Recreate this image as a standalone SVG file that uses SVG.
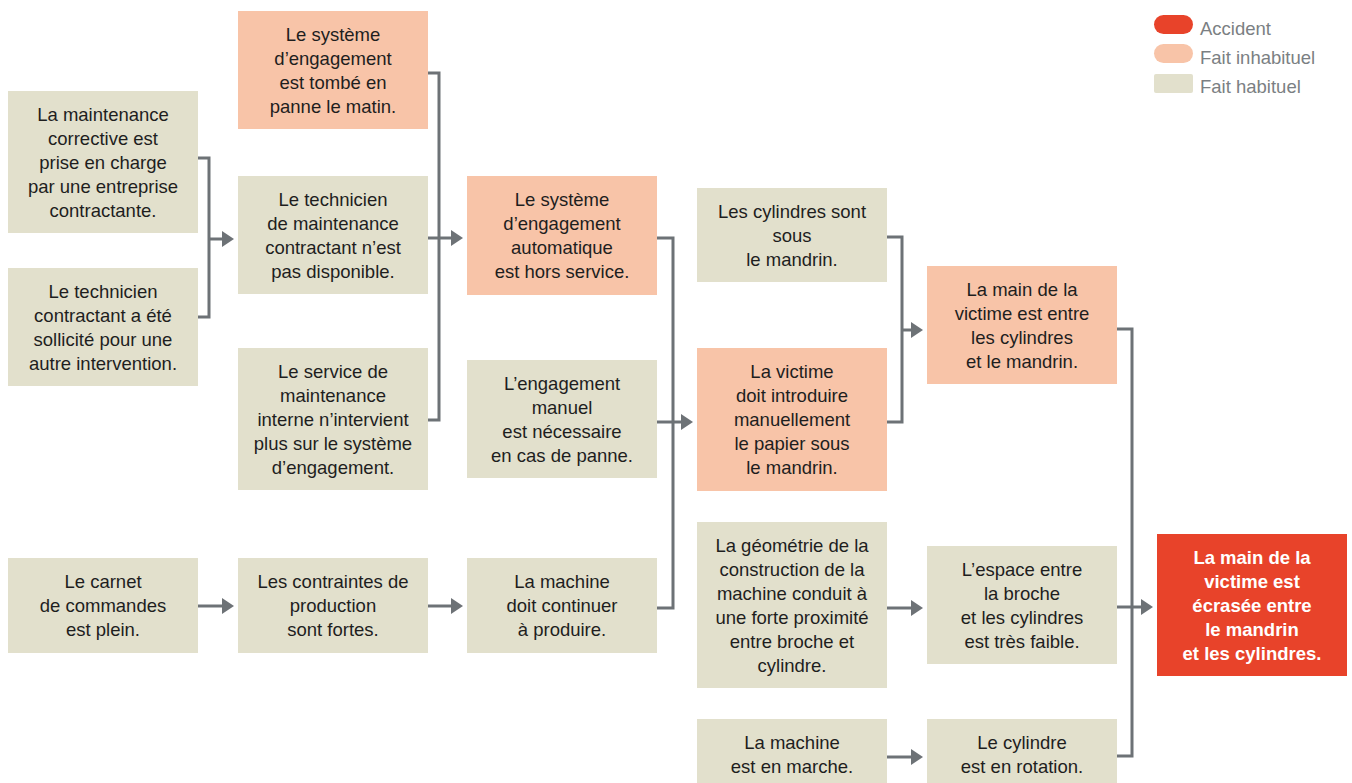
<svg xmlns="http://www.w3.org/2000/svg" width="1352" height="783" viewBox="0 0 1352 783">
<defs>
<style>
.h{fill:#E2E0CC}
.u{fill:#F8C4A8}
.a{fill:#E8432A}
.t{font-family:"Liberation Sans",Arial,sans-serif;font-size:18.5px;fill:#1E1E1E;text-anchor:middle}
.ta{font-family:"Liberation Sans",Arial,sans-serif;font-size:18.5px;font-weight:bold;fill:#FFFFFF;text-anchor:middle}
.lg{font-family:"Liberation Sans",Arial,sans-serif;font-size:18.5px;fill:#7B7F83}
.c{fill:none;stroke:#6D7276;stroke-width:3}
</style>
<marker id="ar" markerUnits="userSpaceOnUse" markerWidth="12" markerHeight="16" refX="2" refY="8" orient="auto">
<path d="M0,0 L12,8 L0,16 Z" fill="#6D7276"/>
</marker>
</defs>
<rect width="1352" height="783" fill="#FFFFFF"/>

<g id="legend">
<rect class="a" x="1154" y="15" width="39" height="19" rx="9.5"/>
<text class="lg" x="1200" y="34.5">Accident</text>
<rect class="u" x="1154" y="44" width="39" height="19" rx="9.5"/>
<text class="lg" x="1200" y="63.5">Fait inhabituel</text>
<rect class="h" x="1154" y="74" width="39" height="19" rx="2"/>
<text class="lg" x="1200" y="92.5">Fait habituel</text>
</g>

<g id="connectors">
<path class="c" d="M198,158 H209 V317 H198"/>
<path class="c" d="M209,239 H224" marker-end="url(#ar)"/>
<path class="c" d="M198,606 H224" marker-end="url(#ar)"/>
<path class="c" d="M428,73 H439 V420 H428"/>
<path class="c" d="M428,238 H453" marker-end="url(#ar)"/>
<path class="c" d="M428,606 H453" marker-end="url(#ar)"/>
<path class="c" d="M657,238 H673 V608 H657"/>
<path class="c" d="M657,422 H683" marker-end="url(#ar)"/>
<path class="c" d="M887,237 H902 V422 H887"/>
<path class="c" d="M902,330 H913" marker-end="url(#ar)"/>
<path class="c" d="M887,608 H913" marker-end="url(#ar)"/>
<path class="c" d="M887,757 H913" marker-end="url(#ar)"/>
<path class="c" d="M1117,329 H1132 V756 H1117"/>
<path class="c" d="M1117,607 H1143" marker-end="url(#ar)"/>
</g>

<g id="A1"><rect class="h" x="8" y="91" width="190" height="142"/>
<text class="t" y="121"><tspan x="103">La maintenance</tspan><tspan x="103" dy="24">corrective est</tspan><tspan x="103" dy="24">prise en charge</tspan><tspan x="103" dy="24">par une entreprise</tspan><tspan x="103" dy="24">contractante.</tspan></text></g>

<g id="A2"><rect class="h" x="8" y="268" width="190" height="118"/>
<text class="t" y="298"><tspan x="103">Le technicien</tspan><tspan x="103" dy="24">contractant a été</tspan><tspan x="103" dy="24">sollicité pour une</tspan><tspan x="103" dy="24">autre intervention.</tspan></text></g>

<g id="A3"><rect class="h" x="8" y="558" width="190" height="95"/>
<text class="t" y="588"><tspan x="103">Le carnet</tspan><tspan x="103" dy="24">de commandes</tspan><tspan x="103" dy="24">est plein.</tspan></text></g>

<g id="B1"><rect class="u" x="238" y="11" width="190" height="118"/>
<text class="t" y="41"><tspan x="333">Le système</tspan><tspan x="333" dy="24">d’engagement</tspan><tspan x="333" dy="24">est tombé en</tspan><tspan x="333" dy="24">panne le matin.</tspan></text></g>

<g id="B2"><rect class="h" x="238" y="176" width="190" height="118"/>
<text class="t" y="206"><tspan x="333">Le technicien</tspan><tspan x="333" dy="24">de maintenance</tspan><tspan x="333" dy="24">contractant n’est</tspan><tspan x="333" dy="24">pas disponible.</tspan></text></g>

<g id="B3"><rect class="h" x="238" y="348" width="190" height="142"/>
<text class="t" y="378"><tspan x="333">Le service de</tspan><tspan x="333" dy="24">maintenance</tspan><tspan x="333" dy="24">interne n’intervient</tspan><tspan x="333" dy="24">plus sur le système</tspan><tspan x="333" dy="24">d’engagement.</tspan></text></g>

<g id="B4"><rect class="h" x="238" y="558" width="190" height="95"/>
<text class="t" y="588"><tspan x="333">Les contraintes de</tspan><tspan x="333" dy="24">production</tspan><tspan x="333" dy="24">sont fortes.</tspan></text></g>

<g id="C1"><rect class="u" x="467" y="176" width="190" height="119"/>
<text class="t" y="206"><tspan x="562">Le système</tspan><tspan x="562" dy="24">d’engagement</tspan><tspan x="562" dy="24">automatique</tspan><tspan x="562" dy="24">est hors service.</tspan></text></g>

<g id="C2"><rect class="h" x="467" y="360" width="190" height="118"/>
<text class="t" y="390"><tspan x="562">L’engagement</tspan><tspan x="562" dy="24">manuel</tspan><tspan x="562" dy="24">est nécessaire</tspan><tspan x="562" dy="24">en cas de panne.</tspan></text></g>

<g id="C3"><rect class="h" x="467" y="558" width="190" height="95"/>
<text class="t" y="588"><tspan x="562">La machine</tspan><tspan x="562" dy="24">doit continuer</tspan><tspan x="562" dy="24">à produire.</tspan></text></g>

<g id="D1"><rect class="h" x="697" y="188" width="190" height="94"/>
<text class="t" y="218"><tspan x="792">Les cylindres sont</tspan><tspan x="792" dy="24">sous</tspan><tspan x="792" dy="24">le mandrin.</tspan></text></g>

<g id="D2"><rect class="u" x="697" y="348" width="190" height="143"/>
<text class="t" y="378"><tspan x="792">La victime</tspan><tspan x="792" dy="24">doit introduire</tspan><tspan x="792" dy="24">manuellement</tspan><tspan x="792" dy="24">le papier sous</tspan><tspan x="792" dy="24">le mandrin.</tspan></text></g>

<g id="D3"><rect class="h" x="697" y="522" width="190" height="166"/>
<text class="t" y="552"><tspan x="792">La géométrie de la</tspan><tspan x="792" dy="24">construction de la</tspan><tspan x="792" dy="24">machine conduit à</tspan><tspan x="792" dy="24">une forte proximité</tspan><tspan x="792" dy="24">entre broche et</tspan><tspan x="792" dy="24">cylindre.</tspan></text></g>

<g id="D4"><rect class="h" x="697" y="719" width="190" height="72"/>
<text class="t" y="749"><tspan x="792">La machine</tspan><tspan x="792" dy="24">est en marche.</tspan></text></g>

<g id="E1"><rect class="u" x="927" y="266" width="190" height="118"/>
<text class="t" y="296"><tspan x="1022">La main de la</tspan><tspan x="1022" dy="24">victime est entre</tspan><tspan x="1022" dy="24">les cylindres</tspan><tspan x="1022" dy="24">et le mandrin.</tspan></text></g>

<g id="E2"><rect class="h" x="927" y="546" width="190" height="118"/>
<text class="t" y="576"><tspan x="1022">L’espace entre</tspan><tspan x="1022" dy="24">la broche</tspan><tspan x="1022" dy="24">et les cylindres</tspan><tspan x="1022" dy="24">est très faible.</tspan></text></g>

<g id="E3"><rect class="h" x="927" y="719" width="190" height="72"/>
<text class="t" y="749"><tspan x="1022">Le cylindre</tspan><tspan x="1022" dy="24">est en rotation.</tspan></text></g>

<g id="F1"><rect class="a" x="1157" y="534" width="190" height="142"/>
<text class="ta" y="564"><tspan x="1252">La main de la</tspan><tspan x="1252" dy="24">victime est</tspan><tspan x="1252" dy="24">écrasée entre</tspan><tspan x="1252" dy="24">le mandrin</tspan><tspan x="1252" dy="24">et les cylindres.</tspan></text></g>
</svg>
